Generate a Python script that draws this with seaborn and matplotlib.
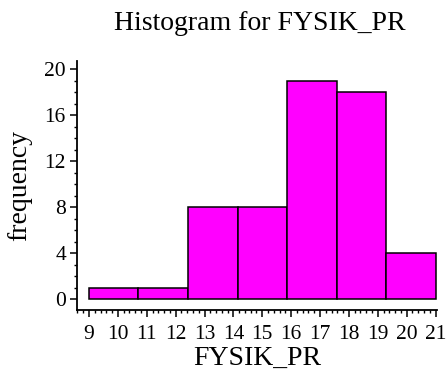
import numpy as np
import matplotlib
matplotlib.use("Agg")
import matplotlib.pyplot as plt
from matplotlib.ticker import MultipleLocator
import seaborn as sns

# Histogram data: 7 equal-width bins spanning 9..21
bin_edges = [9.0, 9 + 12 / 7, 9 + 24 / 7, 9 + 36 / 7, 9 + 48 / 7, 9 + 60 / 7, 9 + 72 / 7, 21.0]
counts = [1, 1, 8, 8, 19, 18, 4]
x_ticks = list(range(9, 22))
y_ticks = [0, 4, 8, 12, 16, 20]

sns.set_theme(style="ticks")
plt.rcParams["font.family"] = ["Liberation Serif", "DejaVu Serif"]
plt.rcParams["text.color"] = "black"
plt.rcParams["axes.labelcolor"] = "black"

centers = [(a + b) / 2 for a, b in zip(bin_edges[:-1], bin_edges[1:])]

fig = plt.figure(figsize=(4.46, 3.81), dpi=100)
ax = fig.add_axes([77 / 446, 71 / 381, 360 / 446, 249 / 381])

sns.histplot(x=centers, weights=counts, bins=bin_edges, ax=ax,
             color="#FF00FF", edgecolor="black", linewidth=1.1, alpha=1.0)

ax.set_xlim(8.585, 21.05)
ax.set_ylim(-0.95, 20.7)
ax.set_xticks(x_ticks)
ax.set_yticks(y_ticks)
ax.xaxis.set_minor_locator(MultipleLocator(0.2))
ax.yaxis.set_minor_locator(MultipleLocator(1))

ax.tick_params(axis="both", which="major", direction="out", length=5, width=1.1,
               labelsize=15.5, color="black", labelcolor="black")
ax.tick_params(axis="both", which="minor", direction="out", length=2.5, width=1.0, color="black")
ax.tick_params(axis="x", which="major", pad=6)
ax.tick_params(axis="y", which="major", pad=3)

for side in ("top", "right"):
    ax.spines[side].set_visible(False)
for side in ("left", "bottom"):
    ax.spines[side].set_linewidth(1.3)
    ax.spines[side].set_color("black")

ax.set_xlabel("FYSIK_PR", fontsize=20, color="black", labelpad=1)
ax.set_ylabel("frequency", fontsize=20, color="black", labelpad=9)
fig.suptitle("Histogram for FYSIK_PR", fontsize=20, color="black",
             x=260 / 446, y=1 - 24 / 381, va="center")

fig.savefig("out.png", dpi=100)
